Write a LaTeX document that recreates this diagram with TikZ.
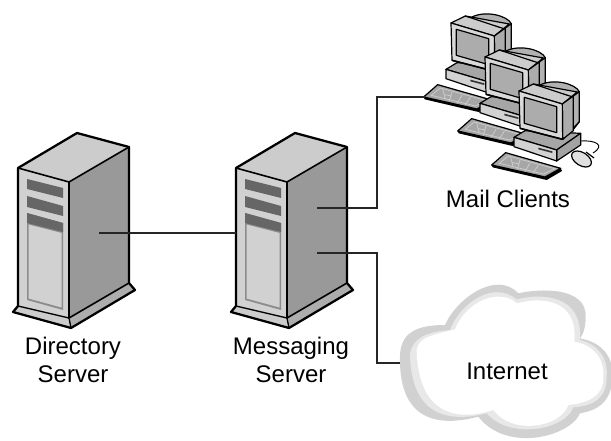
\documentclass[tikz,border=0pt]{standalone}
\usepackage{fontspec}
\setmainfont{Liberation Sans}
\definecolor{srvtop}{gray}{0.80}
\definecolor{srvside}{gray}{0.60}
\definecolor{srvfront}{gray}{0.82}
\definecolor{srvstrip}{gray}{0.40}
\definecolor{srvframe}{gray}{0.55}
\definecolor{wirecol}{gray}{0.15}
\tikzset{
  srvline/.style={draw=black,line width=1.7pt,line join=round},
  pcline/.style={draw=black,line width=0.9pt,line join=round},
  wire/.style={draw=wirecol,line width=0.95pt},
  lbl/.style={font=\fontsize{18}{21.5}\selectfont,align=center,inner sep=0pt},
}
\newcommand{\myserver}[1]{%
\begin{scope}[shift={(#1,0)}]
  \path[fill=srvside] (69,182)--(129,147)--(129,283)--(69,318)--cycle;
  \path[fill=srvtop] (18,168)--(77,133)--(129,147)--(69,182)--cycle;
  \path[fill=srvfront] (18,168)--(69,182)--(69,318)--(18,306)--cycle;
  \path[fill=srvstrip] (27,179)--(63,188)--(63,198)--(27,189)--cycle;
  \path[fill=srvstrip] (27,196)--(63,206)--(63,216)--(27,207)--cycle;
  \path[fill=srvframe] (27,213)--(63,223)--(63,310)--(27,300)--cycle;
  \path[fill=srvstrip] (27,213)--(63,223)--(63,232)--(27,223)--cycle;
  \path[fill=srvfront] (28.5,224.5)--(61.5,233)--(61.5,307.5)--(28.5,298.5)--cycle;
  \path[fill=srvtop] (18,306)--(69,318)--(71,328)--(13,312)--cycle;
  \path[fill=srvtop!85!black] (69,318)--(129,283)--(135,290)--(71,328)--cycle;
  \draw[srvline] (18,306)--(18,168)--(77,133)--(129,147)--(129,283)--(135,290)--(71,328)--(13,312)--cycle;
  \draw[srvline,line width=1.2pt] (18,168)--(69,182)--(129,147);
  \draw[srvline,line width=1.2pt] (69,182)--(69,318)--(129,283);
  \draw[srvline,line width=1pt] (18,306)--(69,318)--(71,328);
\end{scope}}
\newcommand{\mycomputer}[1]{%
\begin{scope}[shift={(490-34*#1,80-34*#1)},x=0.25pt,y=-0.25pt]
  % keyboard
  \path[fill=black] (5,255)--(47,218)--(212,265)--(216,273)--(170,300)--(8,262)--cycle;
  \path[pcline,fill=gray!70] (5,255)--(47,218)--(212,265)--(165,291)--cycle;
  \draw[white!80!black,line width=0.6pt] (28,250)--(55,228)--(195,266)--(160,282)--cycle;
  \draw[white!80!black,line width=0.6pt] (62,232)--(70,262) (90,240)--(82,268) (68,248)--(88,252) (120,250)--(105,274) (145,256)--(130,278);
  % base
  \path[pcline,fill=gray!70] (72,172)--(105,152)--(272,160)--(200,210)--cycle;
  \path[pcline,fill=gray!72] (200,210)--(272,160)--(272,195)--(200,243)--cycle;
  \path[pcline,fill=gray!35] (72,172)--(200,210)--(200,243)--(72,200)--cycle;
  \path[fill=black!80] (145,203)--(187,214)--(187,219)--(145,208)--cycle;
  % rear dome
  \path[pcline,fill=gray!60] (150,15) .. controls (190,-5) and (255,10) .. (268,35)--(268,125)--(245,155)--(200,120)--cycle;
  \path[pcline,fill=gray!60] (217,72)--(268,35)--(268,125)--(218,178)--cycle;
  % hood
  \path[pcline,fill=gray!40] (87,33)--(130,12)--(262,36)--(217,72)--cycle;
  \draw[pcline] (130,12)--(245,50);
  % side
  \path[pcline,fill=gray!65] (217,72)--(250,48)--(250,152)--(218,178)--cycle;
  % front
  \path[pcline,fill=gray!30] (87,33)--(217,72)--(218,178)--(90,145)--cycle;
  \path[pcline,fill=gray!65] (103,52)--(200,80)--(200,158)--(103,130)--cycle;
  \draw[black,line width=1.2pt] (90,145)--(218,178);
\end{scope}}
\begin{document}
\begin{tikzpicture}[x=0.75pt,y=-0.75pt]
  \useasboundingbox (0,0) rectangle (611,441);
  \fill[white] (0,0) rectangle (611,441);
  % cloud
  \begin{scope}[shift={(390,270)},x=0.25pt,y=-0.25pt]
    \clip (-3,0) rectangle (664,514);
    \path[fill=gray!36] (30,280) .. controls (25,200) and (60,165) .. (165,165)
      .. controls (200,85) and (320,0) .. (385,70)
      .. controls (450,55) and (590,50) .. (587,140)
      .. controls (587,175) and (578,195) .. (570,205)
      .. controls (625,215) and (670,250) .. (668,320)
      .. controls (665,390) and (630,420) .. (570,430)
      .. controls (540,500) and (350,550) .. (265,440)
      .. controls (170,465) and (35,470) .. (30,280) -- cycle;
    \path[fill=gray!18] (60,255) .. controls (65,205) and (110,185) .. (180,180)
      .. controls (210,100) and (310,30) .. (380,88)
      .. controls (450,70) and (580,70) .. (570,210)
      .. controls (620,222) and (655,260) .. (650,320)
      .. controls (650,385) and (610,408) .. (550,412)
      .. controls (525,480) and (360,510) .. (290,430)
      .. controls (190,455) and (65,450) .. (60,255) -- cycle;
    \path[fill=white] (80,240) .. controls (85,200) and (130,195) .. (195,178)
      .. controls (225,100) and (320,50) .. (382,100)
      .. controls (450,80) and (565,85) .. (553,215)
      .. controls (610,225) and (645,265) .. (640,325)
      .. controls (640,380) and (590,400) .. (535,405)
      .. controls (510,475) and (365,495) .. (310,420)
      .. controls (220,450) and (85,450) .. (80,240) -- cycle;
  \end{scope}
  \myserver{0}
  \myserver{218}
  \mycomputer{2}
  \mycomputer{1}
  \mycomputer{0}
  % mouse
  \draw[black,line width=0.7pt] (581,141) .. controls (595,140) and (606,145) .. (593,153);
  \draw[pcline,fill=gray!25,rotate around={-32:(581.5,159)}] (581.5,159) ellipse (11 and 6.5);
  \draw[pcline] (586,152)--(594,158);
  % anchors
  \coordinate (dirport) at (99,233);
  \coordinate (msgleft) at (236,233);
  \coordinate (msgup) at (317,208);
  \coordinate (msgdown) at (317,253);
  \coordinate (kbd) at (425,97);
  \coordinate (cloudin) at (400,363);
  \draw[wire] (dirport) -- (msgleft);
  \draw[wire] (msgup) -| (377,97) -- (kbd);
  \draw[wire] (msgdown) -| (377,363) -- (cloudin);
  % labels
  \node[lbl] (dirlabel) at (73,360) {Directory\\Server};
  \node[lbl] (msglabel) at (291,360) {Messaging\\Server};
  \node[lbl] (maillabel) at (508,199) {Mail Clients};
  \node[lbl] (netlabel) at (507,371) {Internet};
\end{tikzpicture}
\end{document}
